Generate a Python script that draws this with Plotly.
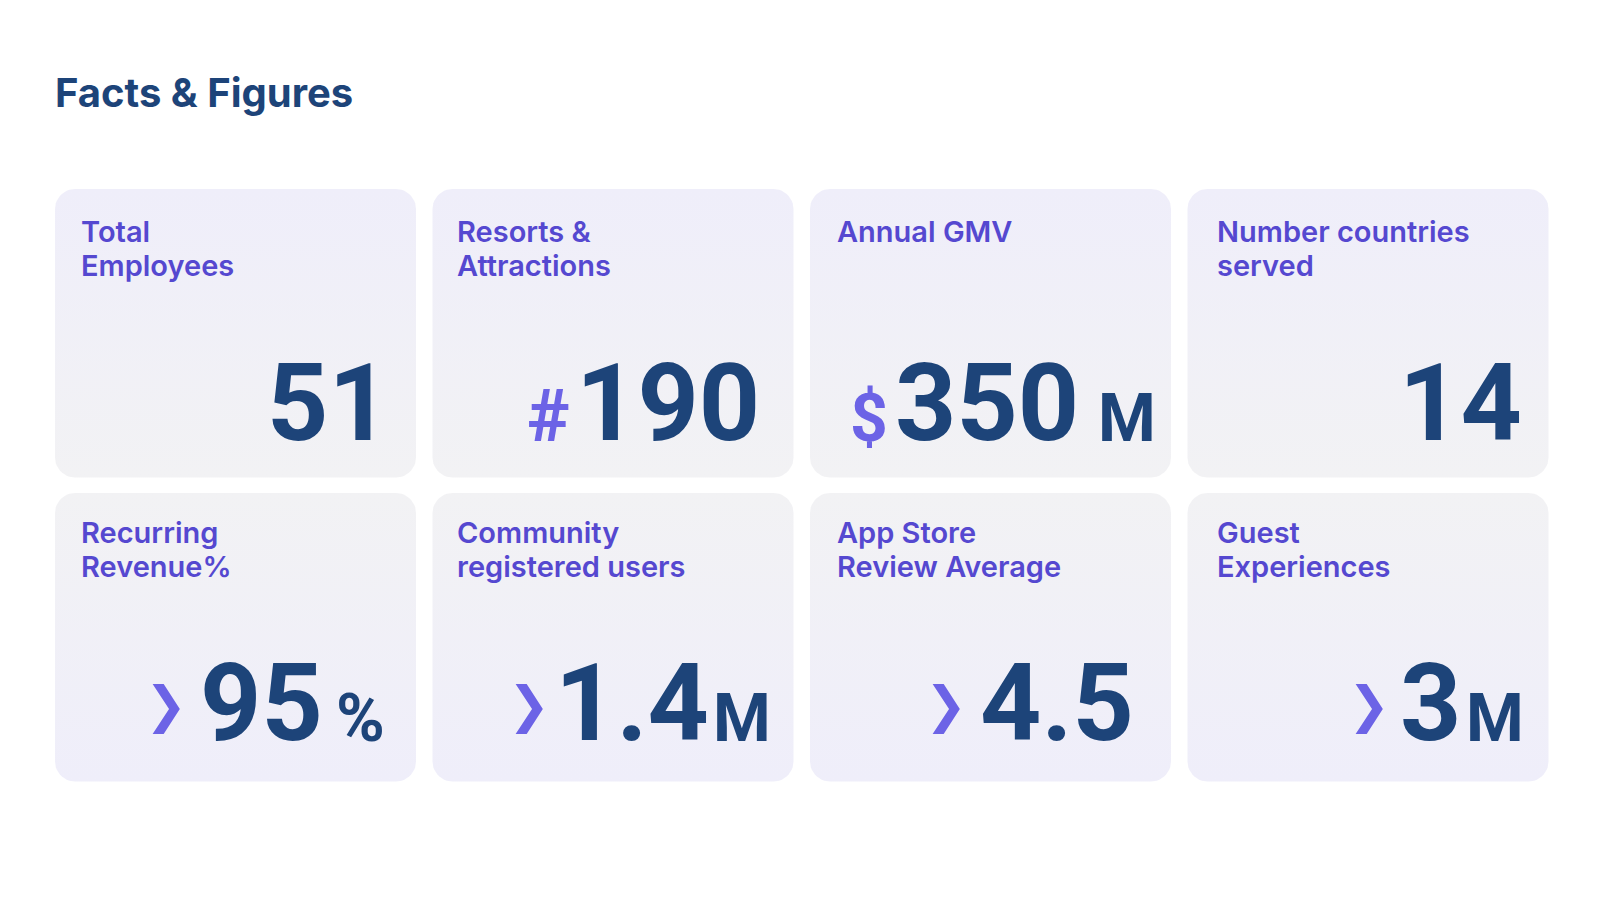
import numpy as np
import plotly.graph_objects as go

# ---------------- data ----------------
title = "Facts & Figures"
labels = ["Total\nEmployees", "Resorts &\nAttractions", "Annual GMV", "Number countries\nserved",
          "Recurring\nRevenue%", "Community\nregistered users", "App Store\nReview Average",
          "Guest\nExperiences"]
prefixes = ["", "#", "$", "", "❯", "❯", "❯", "❯"]
values = ["51", "190", "350", "14", "95", "1.4", "4.5", "3"]
suffixes = ["", "", "M", "", "%", "M", "", "M"]

# ---------------- layout (pixels) ----------------
W, H = 1600, 900
col_left = [55, 432.5, 810, 1187.5]
card_w = 361
row_top = [189, 493]
card_h = 288.5
radius = 20
label_x = [82, 458, 838, 1218]
label_baselines = [[242, 276], [543, 577]]
value_baseline = [442, 742]
num_left = [281, 580, 893, 1408, 200, 565, 981, 1403]
num_right = [375, 755, 1080, 1513, 322, 698, 1132, 1457]
prefix_right = [0, 570, 888, 0, 181, 544, 961, 1384]
suffix_left = [0, 0, 1098, 0, 336, 713, 0, 1466]

# ---------------- styles ----------------
navy = "#1d4479"
label_color = "#5548d0"
accent = "#6c63e6"
lav = "#efeefa"
grey = "#f2f2f4"
LABEL_FONT = "Inter"
NUM_FONT = "Roboto"
label_size = 29
title_size = 40
num_size = 107
small_size = 66
hash_size = 72
chev_size = 50


def rounded_rect(x0, y0, x1, y1, r, n=12):
    xs, ys = [], []
    corners = [(x1 - r, y0 + r, -90, 0), (x1 - r, y1 - r, 0, 90),
               (x0 + r, y1 - r, 90, 180), (x0 + r, y0 + r, 180, 270)]
    for cx, cy, a0, a1 in corners:
        t = np.radians(np.linspace(a0, a1, n))
        xs.extend(cx + r * np.cos(t))
        ys.extend(cy + r * np.sin(t))
    xs.append(xs[0]); ys.append(ys[0])
    return xs, ys


fig = go.Figure()
annotations = []

for i in range(8):
    row, col = divmod(i, 4)
    x0 = col_left[col]
    y0 = row_top[row]
    x1, y1 = x0 + card_w, y0 + card_h
    xs, ys = rounded_rect(x0, y0, x1, y1, radius)
    top_c, bot_c = (lav, grey) if row == 0 else (grey, lav)
    fig.add_trace(go.Scatter(
        x=xs, y=ys, mode="lines", fill="toself", line=dict(width=0),
        fillgradient=dict(type="vertical", start=y0, stop=y1,
                          colorscale=[[0, top_c], [1, bot_c]]),
        hoverinfo="skip", showlegend=False))

    # label lines
    for j, line in enumerate(labels[i].split("\n")):
        bl = label_baselines[row][j]
        annotations.append(dict(
            x=label_x[col] - 3, y=bl - 0.364 * label_size, xref="x", yref="y",
            xanchor="left", yanchor="middle", text=line, showarrow=False,
            font=dict(family=LABEL_FONT, size=label_size, color=label_color, weight=600)))

    vb = value_baseline[row]
    cy_num = vb - 0.3555 * num_size
    annotations.append(dict(
        x=(num_left[i] + num_right[i]) / 2, y=cy_num, xref="x", yref="y",
        xanchor="center", yanchor="middle", text=values[i], showarrow=False,
        font=dict(family=NUM_FONT, size=num_size, color=navy, weight="bold")))

    p = prefixes[i]
    if p == "❯":
        annotations.append(dict(
            x=prefix_right[i] + 8, y=vb - 37, xref="x", yref="y",
            xanchor="right", yanchor="middle", text=p, showarrow=False,
            font=dict(family="DejaVu Sans", size=chev_size, color=accent, weight="bold")))
    elif p:
        sz = hash_size if p == "#" else small_size
        annotations.append(dict(
            x=prefix_right[i] + 2, y=vb - 0.3555 * sz, xref="x", yref="y",
            xanchor="right", yanchor="middle", text=p, showarrow=False,
            font=dict(family=NUM_FONT, size=sz, color=accent, weight="bold")))

    s = suffixes[i]
    if s:
        annotations.append(dict(
            x=suffix_left[i] - 2, y=vb - 0.3555 * small_size, xref="x", yref="y",
            xanchor="left", yanchor="middle", text=s, showarrow=False,
            font=dict(family=NUM_FONT, size=small_size, color=navy, weight="bold")))

annotations.append(dict(
    x=53, y=107 - 0.364 * title_size, xref="x", yref="y", xanchor="left", yanchor="middle",
    text=title, showarrow=False,
    font=dict(family=LABEL_FONT, size=title_size, color=navy, weight="bold")))

fig.update_layout(
    width=W, height=H, margin=dict(l=0, r=0, t=0, b=0),
    paper_bgcolor="white", plot_bgcolor="white",
    xaxis=dict(range=[0, W], visible=False, fixedrange=True),
    yaxis=dict(range=[H, 0], visible=False, fixedrange=True),
    annotations=annotations, showlegend=False,
)

fig.write_html("out.html", config={"displayModeBar": False},
               post_script="document.body.style.margin='0';document.body.style.overflow='hidden';")
